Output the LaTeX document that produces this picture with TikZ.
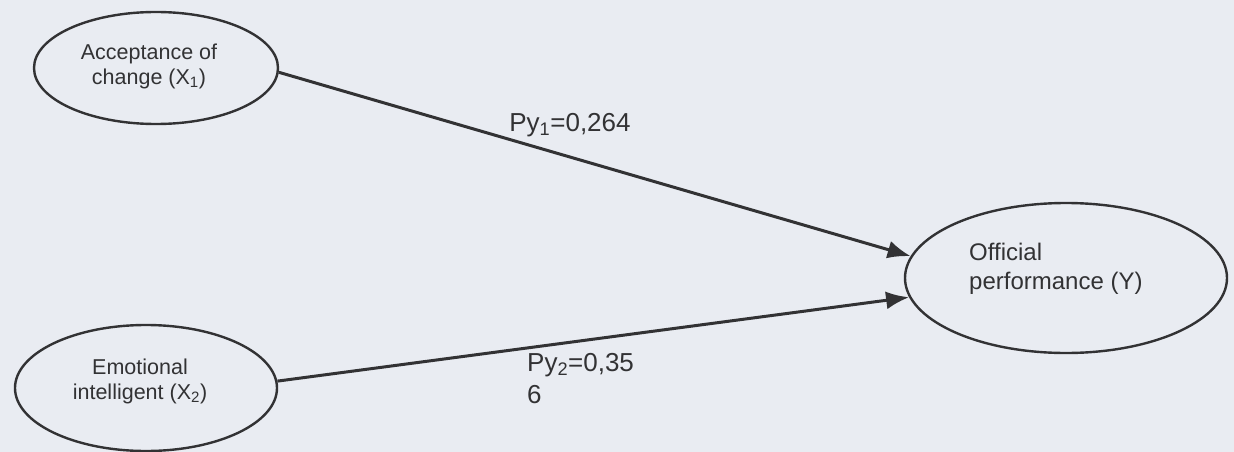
\documentclass[tikz,border=0pt]{standalone}
\usepackage{fontspec}
\setmainfont{Liberation Sans}
\usetikzlibrary{shapes.geometric,arrows.meta}
\definecolor{bg}{RGB}{233,236,242}
\definecolor{ink}{RGB}{50,50,52}
\definecolor{txt}{RGB}{50,50,52}
\tikzset{
  var/.style={ellipse, draw=ink, line width=2.4pt, inner sep=0pt},
  vtext/.style={text=txt, font=\fontsize{21.5}{25}\selectfont, align=center, inner sep=0pt},
  coef/.style={text=txt, font=\fontsize{26}{32}\selectfont, align=left, inner sep=0pt},
  path/.style={draw=ink, line width=3pt, -{Latex[length=23pt,width=18pt]}}
}
\begin{document}
\begin{tikzpicture}[x=1pt,y=-1pt]
\useasboundingbox (0,0) rectangle (1234,452);
\fill[bg] (0,0) rectangle (1234,452);
\node[var, minimum width=244pt, minimum height=112pt] (x1) at (156,68) {};
\node[vtext] (x1t) at (149,66) {Acceptance of\\change (X\textsubscript{1})};
\node[var, minimum width=262pt, minimum height=126pt] (x2) at (146,388) {};
\node[vtext] (x2t) at (140,381) {Emotional\\intelligent (X\textsubscript{2})};
\node[var, minimum width=322pt, minimum height=150pt] (y) at (1066,278) {};
\node[vtext, font=\fontsize{24}{29}\selectfont, align=left, anchor=west] (yt) at (969,269) {Official\\performance (Y)};
\draw[path] (x1.358) -- (y.172);
\draw[path] (x2.3) -- (y.187);
\node[coef] (c1) at (570,125) {Py\textsubscript{1}=0,264};
\node[coef, anchor=north west] (c2) at (527,353) {Py\textsubscript{2}=0,35\\6};
\end{tikzpicture}
\end{document}
